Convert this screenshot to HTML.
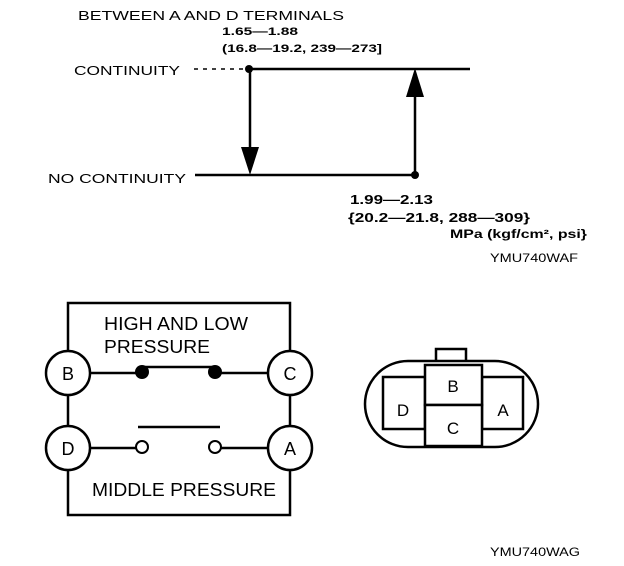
<!DOCTYPE html>
<html><head><style>
html,body{margin:0;padding:0;background:#fff;}
svg{display:block;}
text{font-family:"Liberation Sans",sans-serif;fill:#000;}
</style></head><body>
<svg width="624" height="566" viewBox="0 0 624 566" xmlns="http://www.w3.org/2000/svg">
<g font-size="13">
<text x="78" y="20" textLength="266" lengthAdjust="spacingAndGlyphs">BETWEEN A AND D TERMINALS</text>
<text x="222" y="35" font-size="11" font-weight="bold" textLength="76" lengthAdjust="spacingAndGlyphs">1.65—1.88</text>
<text x="222" y="52" font-size="11" font-weight="bold" textLength="160" lengthAdjust="spacingAndGlyphs">(16.8—19.2, 239—273]</text>
<text x="74" y="75" textLength="106" lengthAdjust="spacingAndGlyphs">CONTINUITY</text>
<text x="48" y="183" textLength="138" lengthAdjust="spacingAndGlyphs">NO CONTINUITY</text>
<text x="350" y="204" font-weight="bold" textLength="83" lengthAdjust="spacingAndGlyphs">1.99—2.13</text>
<text x="348" y="222" font-weight="bold" textLength="182" lengthAdjust="spacingAndGlyphs">{20.2—21.8, 288—309}</text>
<text x="450" y="238" font-size="12" font-weight="bold" textLength="137" lengthAdjust="spacingAndGlyphs">MPa (kgf/cm², psi}</text>
<text x="490" y="262" font-size="12" textLength="88" lengthAdjust="spacingAndGlyphs">YMU740WAF</text>
</g>
<g stroke="#000" stroke-width="2.5" fill="none">
<line x1="194" y1="69" x2="245" y2="69" stroke-dasharray="4,5" stroke-width="1.5"/>
<line x1="249" y1="69" x2="470" y2="69"/>
<line x1="195" y1="175" x2="415" y2="175"/>
<line x1="250" y1="69" x2="250" y2="150"/>
<line x1="415" y1="95" x2="415" y2="175"/>
</g>
<circle cx="249" cy="69" r="4" fill="#000"/>
<circle cx="415" cy="175" r="4" fill="#000"/>
<polygon points="241,147 259,147 250,175" fill="#000"/>
<polygon points="406,97 424,97 415,68" fill="#000"/>

<g stroke="#000" stroke-width="2.5" fill="#fff">
<rect x="68" y="303" width="222" height="212" fill="none"/>
<line x1="90" y1="373" x2="142" y2="373"/>
<line x1="215" y1="373" x2="268" y2="373"/>
<line x1="90" y1="448" x2="136" y2="448"/>
<line x1="221" y1="448" x2="268" y2="448"/>
<line x1="142" y1="367" x2="215" y2="367"/>
<line x1="138" y1="427" x2="220" y2="427"/>
<circle cx="68" cy="373" r="22"/>
<circle cx="290" cy="373" r="22"/>
<circle cx="68" cy="448" r="22"/>
<circle cx="290" cy="448" r="22"/>
<circle cx="142" cy="447" r="6" stroke-width="2"/>
<circle cx="215" cy="447" r="6" stroke-width="2"/>
</g>
<circle cx="142" cy="372" r="7" fill="#000"/>
<circle cx="215" cy="372" r="7" fill="#000"/>
<g font-size="18" text-anchor="middle">
<text x="68" y="380">B</text>
<text x="290" y="380">C</text>
<text x="68" y="455">D</text>
<text x="290" y="455">A</text>
</g>
<text x="104" y="330" font-size="18" textLength="144" lengthAdjust="spacingAndGlyphs">HIGH AND LOW</text>
<text x="104" y="353" font-size="18" textLength="106" lengthAdjust="spacingAndGlyphs">PRESSURE</text>
<text x="92" y="496" font-size="18" textLength="184" lengthAdjust="spacingAndGlyphs">MIDDLE PRESSURE</text>

<g stroke="#000" stroke-width="2.5" fill="#fff">
<rect x="436" y="349" width="30" height="14"/>
<rect x="365" y="361" width="173" height="86" rx="43" ry="43"/>
<rect x="383" y="377" width="42" height="52"/>
<rect x="482" y="377" width="41" height="52"/>
<rect x="425" y="365" width="57" height="40"/>
<rect x="425" y="405" width="57" height="41"/>
</g>
<g font-size="17" text-anchor="middle">
<text x="453" y="392">B</text>
<text x="453" y="434">C</text>
<text x="403" y="416">D</text>
<text x="503" y="416">A</text>
</g>
<text x="490" y="556" font-size="12" textLength="90" lengthAdjust="spacingAndGlyphs">YMU740WAG</text>
</svg>
</body></html>
